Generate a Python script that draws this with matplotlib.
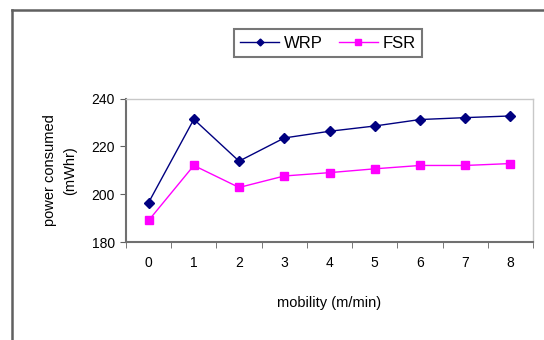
import matplotlib
matplotlib.use("Agg")
import matplotlib.pyplot as plt
from matplotlib.lines import Line2D

plt.rcParams['font.family'] = ['Liberation Sans', 'DejaVu Sans']

# data
mobility = [0, 1, 2, 3, 4, 5, 6, 7, 8]
wrp = [196.5, 231.3, 213.8, 223.5, 226.3, 228.5, 231.2, 232.0, 232.7]
fsr = [189.0, 212.0, 202.8, 207.6, 209.0, 210.6, 212.0, 212.0, 212.8]
y_ticks = [180, 200, 220, 240]

fig = plt.figure(figsize=(5.44, 3.4), dpi=100)
ax = fig.add_axes([126 / 544, 98 / 340, 407 / 544, 143.5 / 340])

ax.plot(mobility, wrp, color='#000080', lw=1.0, marker='D', ms=5,
        mfc='#000080', mec='#000080', label='WRP')
ax.plot(mobility, fsr, color='#ff00ff', lw=1.0, marker='s', ms=6,
        mfc='#ff00ff', mec='#ff00ff', label='FSR')

ax.set_xlim(-0.5, 8.5)
ax.set_ylim(180, 240)
ax.set_yticks(y_ticks)
ax.set_xticks(mobility)
ax.set_xticks([i - 0.5 for i in range(10)], minor=True)
ax.tick_params(axis='x', which='major', length=0, pad=10, labelsize=10)
ax.tick_params(axis='x', which='minor', length=4, color='#606060', direction='out')
ax.tick_params(axis='y', length=4, color='#606060', direction='out',
               labelsize=10, pad=4)

for side in ['left', 'bottom']:
    ax.spines[side].set_color('#707070')
    ax.spines[side].set_linewidth(1.5)
for side in ['top', 'right']:
    ax.spines[side].set_color('#c8c8c8')
    ax.spines[side].set_linewidth(1.0)

ax.set_xlabel('mobility (m/min)', fontsize=10.5, labelpad=19)
ax.set_ylabel('power consumed\n(mWhr)', fontsize=10.5, labelpad=10,
              linespacing=1.6)

leg = ax.legend(loc='center', bbox_to_anchor=(328 / 544, 1 - 43 / 340),
                bbox_transform=fig.transFigure, ncol=2, fontsize=12,
                frameon=True, fancybox=False, handlelength=2.3,
                columnspacing=1.0, handletextpad=0.3, borderpad=0.4,
                markerscale=0.7)
leg.get_frame().set_edgecolor('#555555')
leg.get_frame().set_linewidth(1.5)

# outer chart border (top and left visible)
fig.add_artist(Line2D([12 / 544, 12 / 544], [0, 1 - 10 / 340],
                      transform=fig.transFigure, color='#606060', lw=1.8))
fig.add_artist(Line2D([12 / 544, 1], [1 - 10 / 340, 1 - 10 / 340],
                      transform=fig.transFigure, color='#606060', lw=1.8))

fig.savefig('out.png', dpi=100)
